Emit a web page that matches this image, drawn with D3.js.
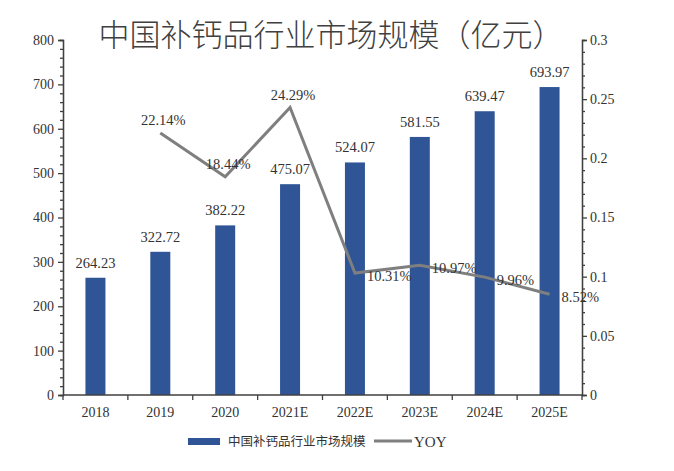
<!DOCTYPE html>
<html><head><meta charset="utf-8">
<script src="https://cdn.jsdelivr.net/npm/d3@7"></script>
<style>body{margin:0;background:#fff}svg{display:block}</style>
</head><body><svg id="c" width="674" height="471"></svg>
<script>
const categories = ["2018","2019","2020","2021E","2022E","2023E","2024E","2025E"];
const marketSize = [264.23,322.72,382.22,475.07,524.07,581.55,639.47,693.97];
const yoy = [null,0.2214,0.1844,0.2429,0.1031,0.1097,0.0996,0.0852];
const yoyLabels = [null,"22.14%","18.44%","24.29%","10.31%","10.97%","9.96%","8.52%"];
const leftTicks = [0,100,200,300,400,500,600,700,800];
const rightTicks = [0,0.05,0.1,0.15,0.2,0.25,0.3];
const rightTickLabels = ["0","0.05","0.1","0.15","0.2","0.25","0.3"];
const labelPos = [null,"above","above","above","right","right","right","right"];

const svg = d3.select("#c");
const m = {l:63, r:582, t:40, b:395};
const serif = "'Liberation Serif','Times New Roman',serif";
const x = d3.scaleBand().domain(categories).range([m.l, m.r]);
const yL = d3.scaleLinear().domain([0,800]).range([m.b, m.t]);
const yR = d3.scaleLinear().domain([0,0.3]).range([m.b, m.t]);
const axisColor = "#404040";
const textColor = "#333333";

// title
svg.append("text").attr("x", 331).attr("y", 46).attr("text-anchor","middle")
  .attr("font-family","'Noto Sans CJK SC','Noto Sans',sans-serif").attr("font-size",31).attr("font-weight",300)
  .attr("fill","#404040").text("中国补钙品行业市场规模（亿元）");

// bars
const bw = 20;
svg.selectAll("rect.bar").data(marketSize).join("rect").attr("class","bar")
  .attr("x",(d,i)=>x(categories[i])+x.bandwidth()/2-bw/2).attr("width",bw)
  .attr("y",d=>yL(d)).attr("height",d=>yL(0)-yL(d)).attr("fill","#2F5597");
svg.selectAll("text.bl").data(marketSize).join("text").attr("class","bl")
  .attr("x",(d,i)=>x(categories[i])+x.bandwidth()/2).attr("y",d=>yL(d)-10)
  .attr("text-anchor","middle").attr("font-family",serif).attr("font-size",14.5).attr("fill",textColor)
  .text(d=>d.toFixed(2));

// left axis
const gL = svg.append("g").attr("transform",`translate(${m.l},0)`);
gL.call(d3.axisLeft(yL).tickValues(leftTicks).tickSize(5).tickPadding(4).tickFormat(d3.format("d")));
gL.append("g").call(d3.axisLeft(yL).tickValues(d3.range(0,801,20).filter(v=>v%100)).tickSize(3).tickFormat(""));
// right axis
const gR = svg.append("g").attr("transform",`translate(${m.r},0)`);
gR.call(d3.axisRight(yR).tickValues(rightTicks).tickSize(5).tickPadding(3).tickFormat((d,i)=>rightTickLabels[i]));
gR.append("g").call(d3.axisRight(yR).tickValues(d3.range(1,30).filter(v=>v%5).map(v=>v/100)).tickSize(3).tickFormat(""));
// x axis
const gX = svg.append("g").attr("transform",`translate(0,${m.b})`);
gX.call(d3.axisBottom(x).tickSize(0).tickPadding(12));
gX.append("g").selectAll("line").data(d3.range(categories.length+1)).join("line")
  .attr("x1",i=>m.l+i*x.step()).attr("x2",i=>m.l+i*x.step()).attr("y1",0).attr("y2",5);
[gL,gR,gX].forEach(g=>{
  g.selectAll("path,line").attr("stroke",axisColor).attr("stroke-width",1.3);
  g.selectAll("text").attr("font-family",serif).attr("font-size",14).attr("fill",textColor);
});
gX.select(".domain").attr("d",`M${m.l},0H${m.r}`);

// line
const pts = yoy.map((v,i)=>v==null?null:[x(categories[i])+x.bandwidth()/2, yR(v)]).filter(p=>p);
svg.append("path").datum(pts).attr("d",d3.line()).attr("fill","none")
  .attr("stroke","#7F7F7F").attr("stroke-width",3).attr("stroke-linejoin","miter");
yoy.forEach((v,i)=>{
  if(v==null) return;
  const cx = x(categories[i])+x.bandwidth()/2, cy = yR(v);
  const t = svg.append("text").attr("font-family",serif).attr("font-size",14.5).attr("fill",textColor).text(yoyLabels[i]);
  if(labelPos[i]==="above") t.attr("x",cx+3).attr("y",cy-8).attr("text-anchor","middle");
  else t.attr("x",cx+12).attr("y",cy+8).attr("text-anchor","start");
});

// legend
const lg = svg.append("g");
lg.append("rect").attr("x",188).attr("y",438).attr("width",32).attr("height",7).attr("fill","#2F5597");
lg.append("text").attr("x",228).attr("y",446).attr("font-family","'Noto Sans CJK SC',serif").attr("font-size",12.5)
  .attr("fill",textColor).text("中国补钙品行业市场规模");
lg.append("line").attr("x1",374).attr("x2",412).attr("y1",441).attr("y2",441).attr("stroke","#7F7F7F").attr("stroke-width",3);
lg.append("text").attr("x",414).attr("y",447).attr("font-family",serif).attr("font-size",15).attr("fill",textColor).text("YOY");
</script></body></html>
